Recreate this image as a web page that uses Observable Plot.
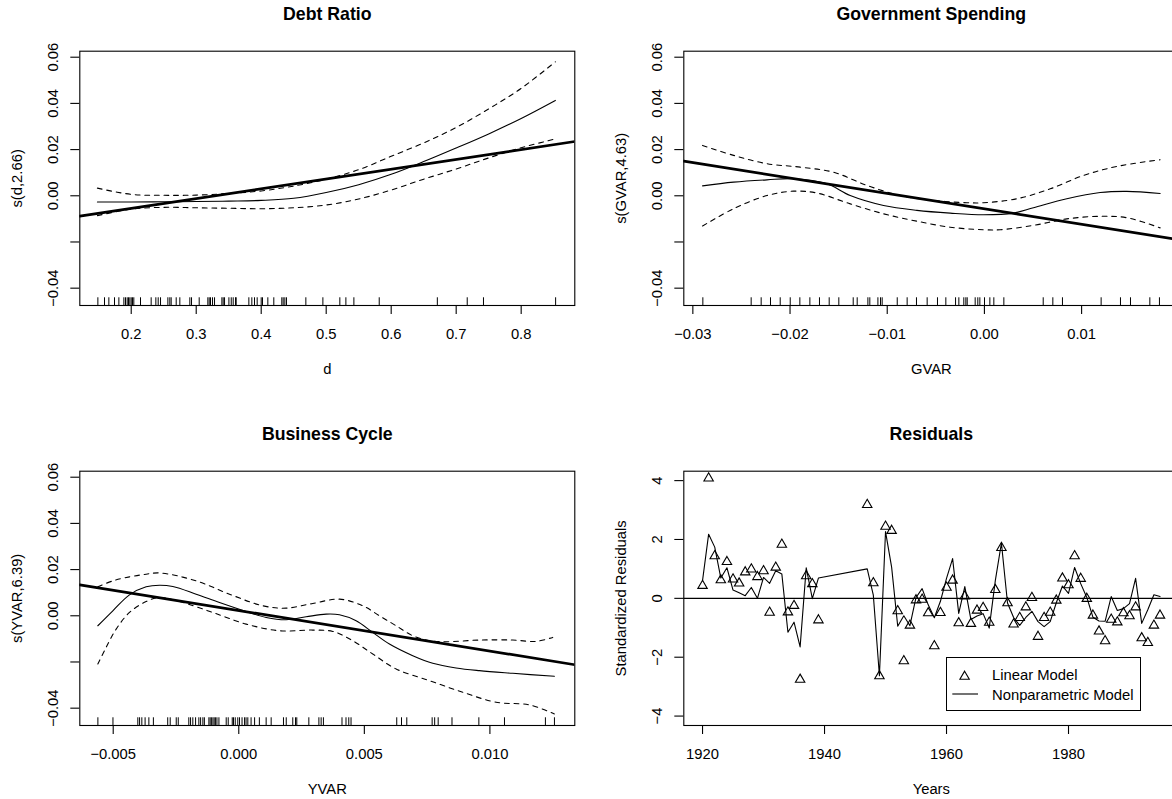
<!DOCTYPE html>
<html><head><meta charset="utf-8">
<script src="https://cdn.jsdelivr.net/npm/d3@7"></script>
<script src="https://cdn.jsdelivr.net/npm/@observablehq/plot@0.6"></script>
<style>
html,body{margin:0;padding:0;background:#fff;overflow:hidden;width:1172px;height:799px;font-family:'Liberation Sans',Arial,Helvetica,sans-serif;}
#wrap{position:relative;width:1172px;height:799px;overflow:hidden;}
.panel{position:absolute;width:604px;height:419.7px;}
.panel svg{max-width:none !important;display:block;}
#legend{position:absolute;left:945.7px;top:656.7px;width:193.2px;height:52.2px;border:1.1px solid #000;background:#fff;}
</style></head><body><div id="wrap"></div>
<script>
// ---------- Panel 1: Debt Ratio ----------
const d1X  = [0.148,0.20,0.25,0.30,0.35,0.40,0.45,0.50,0.55,0.60,0.65,0.70,0.75,0.80,0.8526];
const d1Fit= [-0.0027,-0.0027,-0.0026,-0.0025,-0.0023,-0.0020,-0.0011,0.0014,0.0048,0.0093,0.0148,0.0207,0.0268,0.0335,0.0413];
const d1Up = [0.0033,0.0006,0.0002,0.0003,0.0010,0.0021,0.0042,0.0072,0.0113,0.0171,0.0229,0.0296,0.0376,0.0465,0.0580];
const d1Lo = [-0.0086,-0.0058,-0.0050,-0.0052,-0.0054,-0.0056,-0.0052,-0.0040,-0.0014,0.0025,0.0072,0.0116,0.0164,0.0208,0.0246];
const d1LinX = [0.1209,0.8825];
const d1Lin  = [-0.0088,0.0235];
const d1Rug = [0.1487,0.1589,0.1656,0.1743,0.1810,0.1887,0.1912,0.1938,0.1958,0.1979,0.2000,0.2020,0.2040,0.2143,0.2307,0.2379,0.2415,0.2451,0.2564,0.2594,0.2615,0.2692,0.2748,0.2902,0.2928,0.3046,0.3179,0.3200,0.3220,0.3251,0.3282,0.3395,0.3415,0.3436,0.3503,0.3539,0.3569,0.3605,0.3615,0.3810,0.3856,0.3897,0.3938,0.4000,0.4020,0.4102,0.4194,0.4317,0.4338,0.4364,0.4389,0.4687,0.4949,0.5210,0.5303,0.5426,0.5816,0.671,0.717,0.742,0.853];
const d1XTicks = [0.2,0.3,0.4,0.5,0.6,0.7,0.8];
const d1XLabels = ["0.2","0.3","0.4","0.5","0.6","0.7","0.8"];

// ---------- Panel 2: Government Spending ----------
const d2FitX = [-0.02900,-0.02581,-0.02238,-0.01964,-0.01621,-0.01381,-0.01038,-0.00695,-0.00352,-0.00009,0.00299,0.00505,0.00848,0.01191,0.01465,0.01808];
const d2Fit  = [0.0043,0.0059,0.0069,0.0074,0.0052,0.0001,-0.0042,-0.0063,-0.0075,-0.0082,-0.0075,-0.0052,-0.0013,0.0014,0.0019,0.0010];
const d2UpX  = [-0.02900,-0.02581,-0.02238,-0.01895,-0.01552,-0.01210,-0.00867,-0.00524,-0.00181,-0.00009,0.00334,0.00677,0.01020,0.01362,0.01808];
const d2Up   = [0.0218,0.0175,0.0139,0.0124,0.0102,0.0045,0.0001,-0.0020,-0.0030,-0.0030,-0.0013,0.0030,0.0088,0.0127,0.0156];
const d2LoX  = [-0.02900,-0.02581,-0.02238,-0.01964,-0.01724,-0.01381,-0.01038,-0.00695,-0.00352,-0.00009,0.00162,0.00505,0.00848,0.01191,0.01465,0.01808];
const d2Lo   = [-0.0131,-0.0056,0.0001,0.0020,0.0012,-0.0035,-0.0078,-0.0110,-0.0136,-0.0147,-0.0147,-0.0128,-0.0100,-0.0089,-0.0095,-0.0139];
const d2LinX = [-0.03093,0.02000];
const d2Lin  = [0.0150,-0.0190];
const d2Rug = [-0.02897,-0.02400,-0.02297,-0.02201,-0.02101,-0.01998,-0.01899,-0.01796,-0.01697,-0.01597,-0.01498,-0.01350,-0.01309,-0.01199,-0.01179,-0.01096,-0.01069,-0.01052,-0.00897,-0.00795,-0.00699,-0.00589,-0.00483,-0.00397,-0.00297,-0.00263,-0.00212,-0.00191,-0.00177,-0.00095,-0.00068,-0.00047,0.00001,0.00056,0.00097,0.00200,0.00605,0.00704,0.00803,0.01201,0.01400,0.01503,0.01702,0.01801];
const d2XTicks = [-0.03,-0.02,-0.01,0,0.01];
const d2XLabels = ["\u22120.03","\u22120.02","\u22120.01","0.00","0.01"];

// ---------- Panel 3: Business Cycle ----------
const d3FitX = [-0.005612,-0.005015,-0.004351,-0.003688,-0.003157,-0.002626,-0.001697,-0.000768,0.000293,0.001090,0.001886,0.002682,0.003478,0.004009,0.004672,0.005336,0.005999,0.006928,0.007724,0.008653,0.009582,0.010909,0.012567];
const d3Fit  = [-0.00432,0.00216,0.00907,0.01253,0.01325,0.01267,0.00936,0.00576,0.00187,-0.00072,-0.00173,-0.00043,0.00072,0.00043,-0.00216,-0.00720,-0.01224,-0.01728,-0.02059,-0.02261,-0.02376,-0.02491,-0.02621];
const d3UpX  = [-0.005612,-0.005015,-0.004351,-0.003688,-0.003157,-0.001697,-0.000370,0.000957,0.001886,0.002947,0.004009,0.004938,0.005601,0.006265,0.006928,0.007592,0.008255,0.009582,0.010909,0.011838,0.012501];
const d3Up   = [0.01253,0.01512,0.01685,0.01800,0.01857,0.01512,0.00936,0.00432,0.00331,0.00533,0.00720,0.00432,0.0,-0.00432,-0.00864,-0.01080,-0.01123,-0.01051,-0.01051,-0.01109,-0.00936];
const d3LoX  = [-0.005612,-0.005280,-0.004882,-0.004351,-0.003688,-0.003157,-0.002361,-0.001034,0.000293,0.001620,0.002947,0.003743,0.004539,0.005336,0.006265,0.007592,0.008918,0.010246,0.011573,0.012567];
const d3Lo   = [-0.02088,-0.01368,-0.00576,0.00144,0.00619,0.00792,0.00619,0.00144,-0.00360,-0.00648,-0.00619,-0.00677,-0.01080,-0.01656,-0.02304,-0.02808,-0.03312,-0.03744,-0.03859,-0.04248];
const d3LinX = [-0.00633,0.01338];
const d3Lin  = [0.0134,-0.0212];
const d3Rug = [-0.00561,-0.00501,-0.00402,-0.00395,-0.00386,-0.00373,-0.00358,-0.00340,-0.00283,-0.00273,-0.00249,-0.00241,-0.00199,-0.00192,-0.00183,-0.00172,-0.00159,-0.00152,-0.00143,-0.00137,-0.00119,-0.00114,-0.00109,-0.00103,-0.00098,-0.00093,-0.00087,-0.00079,-0.00050,-0.00042,-0.00026,-0.00021,-0.00014,-0.00004,0.00003,0.00013,0.00023,0.00029,0.00036,0.00049,0.00063,0.00082,0.00109,0.00129,0.00178,0.00189,0.00215,0.00226,0.00231,0.00279,0.00319,0.00328,0.00337,0.00411,0.00427,0.00438,0.00447,0.00629,0.00648,0.00669,0.00770,0.00780,0.00794,0.00849,0.00956,0.01058,0.01221,0.01257];
const d3XTicks = [-0.005,0,0.005,0.01];
const d3XLabels = ["\u22120.005","0.000","0.005","0.010"];

// shared y axis for smooth panels
const sYTicks  = [-0.04,-0.02,0,0.02,0.04,0.06];
const sYLabels = ["\u22120.04","","0.00","0.02","0.04","0.06"];

// ---------- Panel 4: Residuals ----------
const years = [1920,1921,1922,1923,1924,1925,1926,1927,1928,1929,1930,1931,1932,1933,1934,1935,1936,1937,1938,1939,1947,1948,1949,1950,1951,1952,1953,1954,1955,1956,1957,1958,1959,1960,1961,1962,1963,1964,1965,1966,1967,1968,1969,1970,1971,1972,1973,1974,1975,1976,1977,1978,1979,1980,1981,1982,1983,1984,1985,1986,1987,1988,1989,1990,1991,1992,1993,1994,1995];
const linearRes = [0.43,4.08,1.44,0.62,1.24,0.65,0.51,0.89,0.99,0.73,0.93,-0.48,1.05,1.83,-0.47,-0.25,-2.76,0.76,0.49,-0.74,
3.18,0.52,-2.64,2.44,2.30,-0.43,-2.13,-0.92,-0.06,-0.04,-0.50,-1.62,-0.49,0.37,0.61,-0.84,0.07,-0.86,-0.41,-0.32,-0.82,0.29,1.72,-0.16,-0.88,-0.66,-0.30,0.02,-1.30,-0.66,-0.48,-0.07,0.68,0.45,1.44,0.67,-0.01,-0.58,-1.12,-1.45,-0.72,-0.81,-0.50,-0.60,-0.30,-1.35,-1.51,-0.92,-0.58];
const nonparRes = [0.60,2.18,1.74,0.69,1.04,0.28,0.19,0.09,0.37,0.00,0.71,0.51,0.94,0.83,-1.15,-0.81,-1.65,1.04,-0.01,0.69,
1.00,0.11,-2.63,2.27,1.06,-0.95,-0.59,-0.93,0.03,0.33,-0.22,-0.66,-0.10,0.68,1.35,-0.51,0.40,-0.72,-0.60,-0.52,-1.01,0.60,1.88,-0.16,-0.65,-0.92,-0.65,-0.44,-0.79,-0.96,-0.79,-0.15,0.42,0.17,1.05,0.50,0.03,-0.64,-0.77,-0.78,0.06,-0.41,-0.35,-0.18,0.68,-0.85,-0.39,0.12,0.06];
const d4XTicks = [1920,1940,1960,1980];
const d4XLabels = ["1920","1940","1960","1980"];
const d4YTicks = [-4,-2,0,2,4];
const d4YLabels = ["\u22124","\u22122","0","2","4"];
const legendLabels = ["Linear Model","Nonparametric Model"];

// ---------- layout ----------
const FONT = "'Liberation Sans', Arial, Helvetica, sans-serif";
const W = 604, H = 419.7;
const ML = 79.3, MT = 50.7, MR = W - 574.3, MB = H - 305;
const FH = H - MT - MB;
const FS = 14.8;
const zipXY = (xs, ys) => xs.map((x, i) => ({x, y: ys[i]}));

function panel({title, xlab, ylab, xDomain, yDomain, xTicks, xLabels, yTicks, yLabels, marks}) {
  const xl = new Map(xTicks.map((t, i) => [t, xLabels[i]]));
  const yt = yTicks.map((t, i) => ({v: t, s: yLabels[i]}));
  return Plot.plot({
    width: W, height: H, marginLeft: ML, marginTop: MT, marginRight: MR, marginBottom: MB,
    style: {fontFamily: FONT, fontSize: FS + "px", background: "transparent", color: "black", overflow: "visible", maxWidth: "none"},
    x: {type: "linear", domain: xDomain},
    y: {type: "linear", domain: yDomain},
    marks: [
      ...marks,
      Plot.frame({stroke: "black", strokeWidth: 1.1}),
      Plot.axisX({ticks: xTicks, tickSize: 9, tickPadding: 13.6, tickFormat: d => xl.get(d), label: null, strokeWidth: 1.1}),
      Plot.axisY({ticks: yTicks, tickSize: 9, tickFormat: () => "", label: null, strokeWidth: 1.1}),
      Plot.text(yt, {y: "v", text: "s", frameAnchor: "left", dx: -26.5, rotate: -90, textAnchor: "middle", lineAnchor: "middle", fontSize: FS}),
      Plot.text([title], {text: d => d, frameAnchor: "top", dy: -36.5, textAnchor: "middle", lineAnchor: "middle", fontWeight: "bold", fontSize: 17.7}),
      Plot.text([xlab], {text: d => d, frameAnchor: "bottom", dy: 63.7, textAnchor: "middle", lineAnchor: "middle", fontSize: FS}),
      Plot.text([ylab], {text: d => d, frameAnchor: "left", dx: -62.5, rotate: -90, textAnchor: "middle", lineAnchor: "middle", fontSize: FS})
    ]
  });
}

function smoothMarks(fit, up, lo, lin, rug) {
  return [
    Plot.ruleX(rug, {x: d => d, insetTop: FH - 7.7, stroke: "black", strokeWidth: 1}),
    Plot.line(up, {x: "x", y: "y", curve: "catmull-rom", stroke: "black", strokeWidth: 1.1, strokeDasharray: "4.8,4.8", clip: true}),
    Plot.line(lo, {x: "x", y: "y", curve: "catmull-rom", stroke: "black", strokeWidth: 1.1, strokeDasharray: "4.8,4.8", clip: true}),
    Plot.line(fit, {x: "x", y: "y", curve: "catmull-rom", stroke: "black", strokeWidth: 1.1, clip: true}),
    Plot.line(lin, {x: "x", y: "y", stroke: "black", strokeWidth: 2.7, clip: true})
  ];
}

const sYDomain = [-0.0475, 0.0626];

const p1 = panel({
  title: "Debt Ratio", xlab: "d", ylab: "s(d,2.66)",
  xDomain: [0.1209, 0.8825], yDomain: sYDomain,
  xTicks: d1XTicks, xLabels: d1XLabels, yTicks: sYTicks, yLabels: sYLabels,
  marks: smoothMarks(zipXY(d1X, d1Fit), zipXY(d1X, d1Up), zipXY(d1X, d1Lo), zipXY(d1LinX, d1Lin), d1Rug)
});
const p2 = panel({
  title: "Government Spending", xlab: "GVAR", ylab: "s(GVAR,4.63)",
  xDomain: [-0.03093, 0.02000], yDomain: sYDomain,
  xTicks: d2XTicks, xLabels: d2XLabels, yTicks: sYTicks, yLabels: sYLabels,
  marks: smoothMarks(zipXY(d2FitX, d2Fit), zipXY(d2UpX, d2Up), zipXY(d2LoX, d2Lo), zipXY(d2LinX, d2Lin), d2Rug)
});
const p3 = panel({
  title: "Business Cycle", xlab: "YVAR", ylab: "s(YVAR,6.39)",
  xDomain: [-0.00633, 0.01338], yDomain: sYDomain,
  xTicks: d3XTicks, xLabels: d3XLabels, yTicks: sYTicks, yLabels: sYLabels,
  marks: smoothMarks(zipXY(d3FitX, d3Fit), zipXY(d3UpX, d3Up), zipXY(d3LoX, d3Lo), zipXY(d3LinX, d3Lin), d3Rug)
});
const lin4 = years.map((y, i) => ({x: y, y: linearRes[i]}));
const np4 = years.map((y, i) => ({x: y, y: nonparRes[i]}));
const TRI_R = 3.5;
const p4 = panel({
  title: "Residuals", xlab: "Years", ylab: "Standardized Residuals",
  xDomain: [1916.93, 1998.08], yDomain: [-4.32, 4.32],
  xTicks: d4XTicks, xLabels: d4XLabels, yTicks: d4YTicks, yLabels: d4YLabels,
  marks: [
    Plot.ruleY([0], {stroke: "black", strokeWidth: 1.1}),
    Plot.line(np4, {x: "x", y: "y", stroke: "black", strokeWidth: 1.1, clip: true}),
    Plot.dot(lin4, {x: "x", y: "y", symbol: "triangle", r: TRI_R, fill: "none", stroke: "black", strokeWidth: 1.1})
  ]
});

const wrap = document.getElementById("wrap");
[[p1, 0, 0], [p2, 604, 0], [p3, 0, 419.7], [p4, 604, 419.7]].forEach(([svg, l, t]) => {
  const div = document.createElement("div");
  div.className = "panel";
  div.style.left = l + "px"; div.style.top = t + "px";
  svg.style.maxWidth = "none";
  svg.style.width = W + "px";
  svg.style.height = H + "px";
  div.appendChild(svg);
  wrap.appendChild(div);
});

// legend (HTML overlay inside the residual panel)
const leg = document.createElement("div");
leg.id = "legend";
const triPath = d3.symbol(d3.symbolTriangle, Math.PI * TRI_R * TRI_R)();
const ff = FONT.replace(/'/g, "");
leg.innerHTML =
  `<svg width="193" height="52" style="position:absolute;left:0;top:0;overflow:visible">
     <path d="${triPath}" transform="translate(17.6,18.6)" fill="none" stroke="black" stroke-width="1.1"/>
     <line x1="5.3" x2="31" y1="36" y2="36" stroke="black" stroke-width="1.1"/>
     <text x="45" y="17.3" dy="0.35em" font-size="14.8" font-family="${ff}">${legendLabels[0]}</text>
     <text x="45" y="36.4" dy="0.35em" font-size="14.8" font-family="${ff}">${legendLabels[1]}</text>
   </svg>`;
wrap.appendChild(leg);
</script></body></html>
